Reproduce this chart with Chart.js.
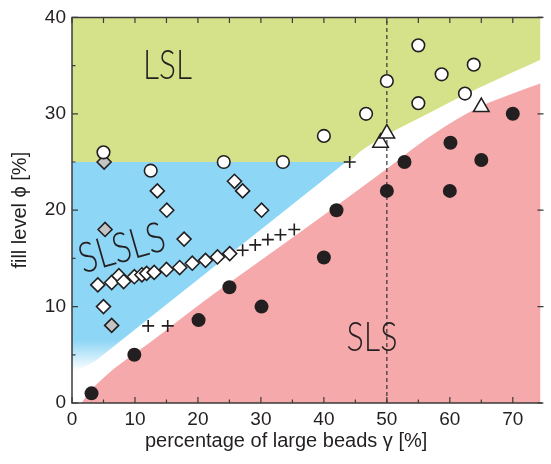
<!DOCTYPE html>
<html>
<head>
<meta charset="utf-8">
<script src="https://cdn.jsdelivr.net/npm/chart.js@4.4.1/dist/chart.umd.min.js"></script>
<style>
  html, body { margin: 0; padding: 0; background: #fff; }
</style>
</head>
<body>
<canvas id="phase-chart" width="551" height="464"></canvas>
<script>
// measured states, gamma = percentage of large beads [%], phi = fill level [%]
var lslGamma = [5, 12.5, 24.1, 33.5, 40, 46.7, 50, 55, 55, 58.7, 62.4, 63.8];
var lslPhi   = [26, 24.1, 25, 25, 27.7, 30, 33.4, 37.1, 31.1, 34.1, 32.1, 35.1];

var slsGamma = [3.1, 9.9, 20.1, 25, 30.1, 40, 42, 50, 52.8, 60, 60.1, 65, 70];
var slsPhi   = [1, 5, 8.6, 12, 10, 15.1, 20, 22, 25, 22, 27, 25.2, 30];

var triGamma = [49, 50, 65];
var triPhi   = [27.0, 27.95, 30.7];

var crossGamma = [12.1, 15.2, 27.1, 29.1, 31.1, 33.1, 35.3, 44.1];
var crossPhi   = [8, 8, 15.85, 16.4, 16.95, 17.45, 18, 25];

var diaGamma = [5, 4.1, 6.3, 7.45, 8.2, 9.9, 11.1, 11.85, 13.05, 15, 17.1, 19.1, 21.2, 23.1, 25.05,
                13.55, 15.05, 17.8, 25.8, 27.1, 30.1];
var diaPhi   = [10, 12.25, 12.5, 13.2, 12.6, 13.1, 13.3, 13.45, 13.55, 13.85, 14.05, 14.5, 14.8, 15.15, 15.5,
                22, 20, 17, 23, 22, 20];

var grayGamma = [5.1, 5.25, 6.3];
var grayPhi   = [25, 18, 8.05];

// phase boundaries
var pinkGamma  = [1.5, 3, 4.5, 6, 9, 12, 20, 30, 40, 50, 55, 60, 65, 70, 75];
var pinkPhi    = [0, 1.3, 2.3, 3.2, 4.7, 6.1, 10.1, 14.8, 19.5, 24.3, 26.8, 29.0, 30.8, 32.1, 33.3];
var greenGamma = [0, 43.5, 46, 50, 55, 60, 65, 70, 75];
var greenPhi   = [25, 25, 26.2, 27.8, 29.5, 31.2, 32.8, 34.3, 35.8];
var blueGamma  = [0, 3.8, 43.5];
var bluePhi    = [3.0, 4.4, 25];

var xTicks = [0, 10, 20, 30, 40, 50, 60, 70];

var ink = '#231f20';

function toPoints(xs, ys) {
    var pts = [];
    for (var i = 0; i < xs.length; i++) {
        pts.push({x: xs[i], y: ys[i]});
    }
    return pts;
}

// soft fade of the blue area towards the lower left corner
function blueFill(context) {
    var chart = context.chart;
    if (!chart.chartArea) return '#8ed6f5';
    var y = chart.scales.y;
    var g = chart.ctx.createLinearGradient(0, y.getPixelForValue(3.3), 0, y.getPixelForValue(6.5));
    g.addColorStop(0, 'rgba(142,214,245,0)');
    g.addColorStop(1, 'rgba(142,214,245,1)');
    return g;
}

// frame, inner ticks, region labels, x title
var framePlugin = {
    id: 'frame',
    afterDatasetsDraw: function(chart) {
        var c = chart.ctx;
        var a = chart.chartArea;
        var xs = chart.scales.x, ys = chart.scales.y;
        c.save();
        c.strokeStyle = '#3b3b3b';
        c.lineWidth = 1.5;
        c.beginPath();
        c.moveTo(a.right + 2, a.top);
        c.lineTo(a.left, a.top);
        c.lineTo(a.left, a.bottom);
        c.lineTo(a.right + 2, a.bottom);
        c.stroke();

        c.lineWidth = 1.2;
        c.beginPath();
        for (var v = 0; v <= 75; v += 5) {
            var px = xs.getPixelForValue(v);
            if (px > a.right + 1) break;
            var len = v % 10 === 0 ? 6 : 3.5;
            c.moveTo(px, a.bottom); c.lineTo(px, a.bottom - len);
            c.moveTo(px, a.top); c.lineTo(px, a.top + 5.5);
        }
        for (var w = 0; w <= 40; w += 5) {
            var py = ys.getPixelForValue(w);
            var l2 = w % 10 === 0 ? 6 : 3.5;
            c.moveTo(a.left, py); c.lineTo(a.left + l2, py);
            if (w % 10 === 0) { c.moveTo(a.right + 3, py); c.lineTo(a.right - 3, py); }
        }
        c.stroke();

        // region labels (thin condensed look)
        c.fillStyle = ink;
        c.font = '300 42px Lato, "Liberation Sans"';
        c.textAlign = 'center';
        c.textBaseline = 'alphabetic';
        function label(text, cx, cy, rot, sx) {
            c.save();
            c.translate(cx, cy);
            c.rotate(rot);
            var wid = c.measureText(text).width;
            c.scale(sx / wid, 1);
            c.fillText(text, 0, 15);
            c.restore();
        }
        label('LSL', 167.5, 64, 0, 49);
        label('SLS', 372, 336, 0, 51);
        label('SLSLS', 121.5, 247, -16 * Math.PI / 180, 88);

        // x axis title
        c.font = '20px "Liberation Sans"';
        c.fillText('percentage of large beads γ [%]', xs.getPixelForValue(34), 447);
        c.restore();
    }
};

var ctx = document.getElementById('phase-chart').getContext('2d');

var chart = new Chart(ctx, {
    type: 'scatter',
    data: {
        datasets: [{
            label: 'LSL',
            data: toPoints(lslGamma, lslPhi),
            pointStyle: 'circle',
            pointRadius: 6.3,
            backgroundColor: '#ffffff',
            borderColor: ink,
            borderWidth: 1.6,
            order: 0
        }, {
            label: 'SLS',
            data: toPoints(slsGamma, slsPhi),
            pointStyle: 'circle',
            pointRadius: 7,
            backgroundColor: ink,
            borderColor: ink,
            borderWidth: 0,
            order: 0
        }, {
            label: 'triangles',
            data: toPoints(triGamma, triPhi),
            pointStyle: 'triangle',
            pointRadius: 9,
            backgroundColor: '#ffffff',
            borderColor: ink,
            borderWidth: 1.5,
            order: 0
        }, {
            label: 'crosses',
            data: toPoints(crossGamma, crossPhi),
            pointStyle: 'cross',
            pointRadius: 6,
            borderColor: ink,
            borderWidth: 1.6,
            order: 0
        }, {
            label: 'SLSLS',
            data: toPoints(diaGamma, diaPhi),
            pointStyle: 'rectRot',
            pointRadius: 7,
            backgroundColor: '#ffffff',
            borderColor: ink,
            borderWidth: 1.6,
            order: 0
        }, {
            label: 'gray',
            data: toPoints(grayGamma, grayPhi),
            pointStyle: 'rectRot',
            pointRadius: 7,
            backgroundColor: '#c3c3c3',
            borderColor: ink,
            borderWidth: 1.6,
            order: 0
        }, {
            type: 'line',
            label: 'gamma50',
            data: [{x: 50, y: 0}, {x: 50, y: 40}],
            borderColor: '#333333',
            borderWidth: 1.2,
            borderDash: [4, 3],
            pointRadius: 0,
            fill: false,
            order: 5
        }, {
            type: 'line',
            label: 'pink',
            data: toPoints(pinkGamma, pinkPhi),
            borderWidth: 0,
            pointRadius: 0,
            cubicInterpolationMode: 'monotone',
            backgroundColor: '#f6a9ab',
            fill: 'start',
            order: 10
        }, {
            type: 'line',
            label: 'green',
            data: toPoints(greenGamma, greenPhi),
            borderWidth: 0,
            pointRadius: 0,
            cubicInterpolationMode: 'monotone',
            backgroundColor: '#d5e28a',
            fill: 'end',
            order: 10
        }, {
            type: 'line',
            label: 'blue',
            data: toPoints(blueGamma, bluePhi),
            borderWidth: 0,
            pointRadius: 0,
            backgroundColor: blueFill,
            fill: {value: 25},
            order: 10
        }]
    },
    options: {
        responsive: false,
        animation: false,
        devicePixelRatio: 1,
        layout: { padding: { top: 13, left: 0, right: 0, bottom: 0 } },
        plugins: {
            legend: { display: false },
            tooltip: { enabled: false }
        },
        scales: {
            x: {
                type: 'linear',
                min: 0,
                max: 74.4,
                grid: { display: false, drawTicks: false },
                border: { display: false },
                afterBuildTicks: function(s) {
                    s.ticks = xTicks.map(function(v) { return {value: v}; });
                },
                afterFit: function(s) { s.height = 61; },
                ticks: {
                    padding: 5,
                    color: ink,
                    font: { family: 'Liberation Sans', size: 19 }
                }
            },
            y: {
                min: 0,
                max: 40,
                grid: { display: false, drawTicks: false },
                border: { display: false },
                afterFit: function(s) { s.width = 72; },
                ticks: {
                    stepSize: 10,
                    padding: 6,
                    color: ink,
                    font: { family: 'Liberation Sans', size: 19 }
                },
                title: {
                    display: true,
                    text: 'fill level ϕ [%]',
                    color: ink,
                    padding: { top: 8, bottom: 0 },
                    font: { family: 'Liberation Sans', size: 20 }
                }
            }
        }
    },
    plugins: [framePlugin]
});
</script>
</body>
</html>
